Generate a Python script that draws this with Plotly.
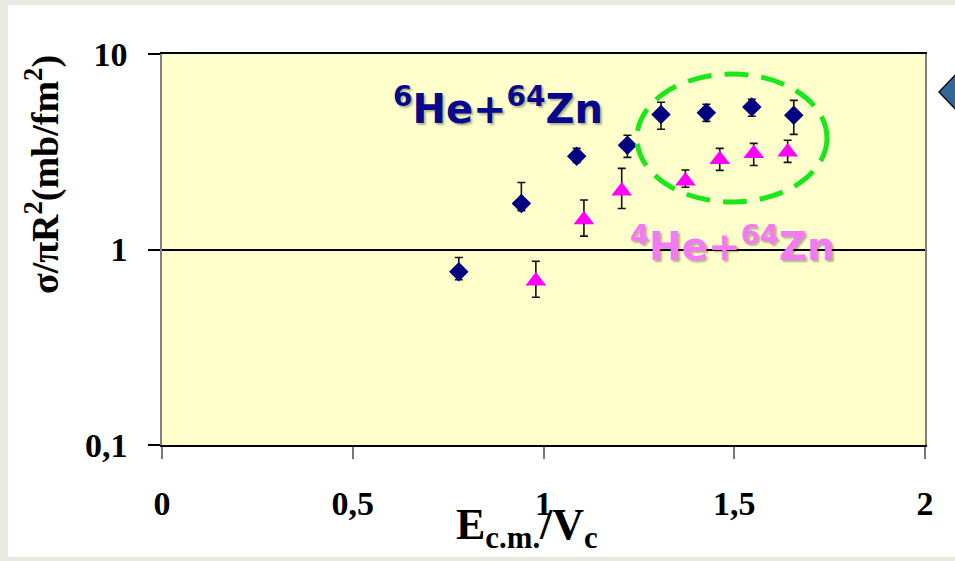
import plotly.graph_objects as go

# ---------------- data ----------------
x_he6 = [0.778, 0.942, 1.087, 1.220, 1.308, 1.427, 1.546, 1.656]
y_he6 = [0.77, 1.72, 3.00, 3.41, 4.91, 5.01, 5.35, 4.86]
err_he6_plus = [0.14, 0.48, 0.29, 0.43, 0.75, 0.52, 0.51, 0.93]
err_he6_minus = [0.07, 0.14, 0.21, 0.45, 0.79, 0.49, 0.55, 0.98]

x_he4 = [0.980, 1.106, 1.205, 1.372, 1.462, 1.551, 1.640]
y_he4 = [0.69, 1.42, 1.99, 2.24, 2.89, 3.10, 3.15]
err_he4_plus = [0.18, 0.37, 0.61, 0.31, 0.40, 0.39, 0.47]
err_he4_minus = [0.12, 0.25, 0.37, 0.16, 0.35, 0.41, 0.36]

x_tickvals = [0, 0.5, 1, 1.5, 2]
x_ticktext = ["0", "0,5", "1", "1,5", "2"]
y_tickvals = [0.1, 1, 10]
y_ticktext = ["0,1", "1", "10"]

label_he6 = "<sup>6</sup>He+<sup>64</sup>Zn"
label_he4 = "<sup>4</sup>He+<sup>64</sup>Zn"
x_title = "E<sub>c.m.</sub>/V<sub>c</sub>"
y_title = "σ/πR<sup>2</sup>(mb/fm<sup>2</sup>)"

# ---------------- layout geometry ----------------
W, H = 955, 561
L, R, T, B = 162, 30, 54, 116
PW, PH = W - L - R, H - T - B


def px(x):
    return (x - L) / PW


def py(y):
    return (H - B - y) / PH


SERIF = "Liberation Serif"

fig = go.Figure()

fig.add_trace(go.Scatter(
    x=x_he6, y=y_he6, mode="markers", name="6He+64Zn",
    marker=dict(symbol="diamond", size=15, color="#000080"),
    error_y=dict(type="data", symmetric=False, array=err_he6_plus,
                 arrayminus=err_he6_minus, color="#111111", thickness=1.6, width=4),
))
fig.add_trace(go.Scatter(
    x=x_he4, y=y_he4, mode="markers", name="4He+64Zn",
    marker=dict(symbol="triangle-up", size=18, color="#ff00ff"),
    error_y=dict(type="data", symmetric=False, array=err_he4_plus,
                 arrayminus=err_he4_minus, color="#111111", thickness=1.6, width=4),
))

shapes = []
# image frame strips
frame = "#eae9e1"
shapes.append(dict(type="rect", xref="paper", yref="paper", x0=px(0), x1=px(8), y0=py(H), y1=py(0),
                   fillcolor=frame, line=dict(width=0), layer="above"))
shapes.append(dict(type="rect", xref="paper", yref="paper", x0=px(0), x1=px(W), y0=py(5), y1=py(0),
                   fillcolor=frame, line=dict(width=0), layer="above"))
shapes.append(dict(type="rect", xref="paper", yref="paper", x0=px(0), x1=px(W), y0=py(H), y1=py(557),
                   fillcolor=frame, line=dict(width=0), layer="above"))
# green dashed ellipse
shapes.append(dict(type="circle", xref="paper", yref="paper",
                   x0=px(637), x1=px(827), y0=py(202), y1=py(74),
                   line=dict(color="#1be81b", width=5, dash="24px,13px")))
# blue arrow at right edge
pts = [(939, 92), (962, 68), (962, 116)]
path = "M " + " L ".join(f"{px(a):.5f},{py(b):.5f}" for a, b in pts) + " Z"
shapes.append(dict(type="path", xref="paper", yref="paper", path=path,
                   fillcolor="#336699", line=dict(color="#111111", width=1.5)))

annotations = [
    dict(text=label_he6, xref="paper", yref="paper", x=px(498), y=py(106),
         xanchor="center", yanchor="middle", showarrow=False,
         font=dict(family="DejaVu Sans", size=40, color="#08088c", weight="bold",
                   shadow="2px 2px 2px rgba(0,0,0,0.3)")),
    dict(text=label_he4, xref="paper", yref="paper", x=px(732), y=py(244),
         xanchor="center", yanchor="middle", showarrow=False,
         font=dict(family="DejaVu Sans", size=39, color="#f27af2", weight="bold",
                   shadow="2px 2px 2px rgba(0,0,0,0.3)")),
    dict(text=y_title, xref="paper", yref="paper", x=px(42), y=py(175),
         xanchor="center", yanchor="middle", showarrow=False, textangle=-90,
         font=dict(family=SERIF, size=38, color="black", weight="bold")),
    dict(text=x_title, xref="paper", yref="paper", x=px(527), y=py(527),
         xanchor="center", yanchor="middle", showarrow=False,
         font=dict(family=SERIF, size=44, color="black", weight="bold")),
]

fig.update_layout(
    width=W, height=H,
    margin=dict(l=L, r=R, t=T, b=B, pad=0),
    paper_bgcolor="white",
    plot_bgcolor="#ffffcc",
    showlegend=False,
    shapes=shapes,
    annotations=annotations,
)

fig.update_xaxes(
    range=[0, 2], tickmode="array", tickvals=x_tickvals, ticktext=x_ticktext,
    showgrid=False, zeroline=False,
    showline=True, linecolor="black", linewidth=1.5, mirror=True,
    ticks="outside", ticklen=12, tickwidth=1.5, tickcolor="#777777",
    tickfont=dict(family=SERIF, size=34, color="black", weight="bold"),
    ticklabelstandoff=15,
)
fig.update_yaxes(
    type="log", range=[-1, 1], tickmode="array", tickvals=y_tickvals, ticktext=y_ticktext,
    showgrid=True, gridcolor="black", gridwidth=1.5, zeroline=False,
    showline=True, linecolor="#808080", linewidth=1.5, mirror=True,
    ticks="outside", ticklen=12, tickwidth=1.5, tickcolor="black",
    tickfont=dict(family=SERIF, size=34, color="black", weight="bold"),
    ticklabelstandoff=14,
)

fig.write_html("out.html")
